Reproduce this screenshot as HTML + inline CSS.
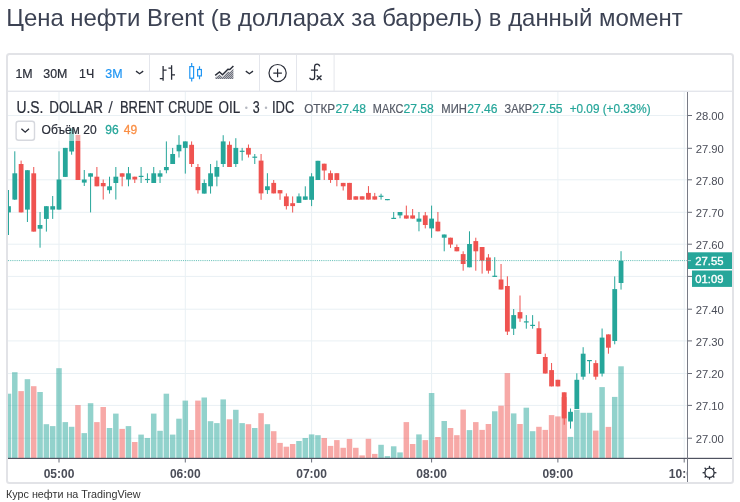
<!DOCTYPE html>
<html><head><meta charset="utf-8"><style>
html,body{margin:0;padding:0;background:#fff;width:740px;height:502px;overflow:hidden}
svg{position:absolute;left:0;top:0;font-family:"Liberation Sans",Arial,sans-serif}
</style></head><body>
<svg width="740" height="502" viewBox="0 0 740 502"><defs><clipPath id="pane"><rect x="8" y="92" width="679" height="366"/></clipPath><clipPath id="leg2"><rect x="8" y="120" width="679" height="21"/></clipPath></defs><g clip-path="url(#pane)"><rect x="8" y="115.00" width="679" height="1" fill="#e9f0f4"/><rect x="8" y="147.80" width="679" height="1" fill="#e9f0f4"/><rect x="8" y="179.30" width="679" height="1" fill="#e9f0f4"/><rect x="8" y="211.80" width="679" height="1" fill="#e9f0f4"/><rect x="8" y="243.70" width="679" height="1" fill="#e9f0f4"/><rect x="8" y="275.90" width="679" height="1" fill="#e9f0f4"/><rect x="8" y="308.70" width="679" height="1" fill="#e9f0f4"/><rect x="8" y="340.40" width="679" height="1" fill="#e9f0f4"/><rect x="8" y="373.00" width="679" height="1" fill="#e9f0f4"/><rect x="8" y="404.90" width="679" height="1" fill="#e9f0f4"/><rect x="8" y="437.70" width="679" height="1" fill="#e9f0f4"/><rect x="58.50" y="92" width="1" height="366" fill="#e9f0f4"/><rect x="184.80" y="92" width="1" height="366" fill="#e9f0f4"/><rect x="311.10" y="92" width="1" height="366" fill="#e9f0f4"/><rect x="431.09" y="92" width="1" height="366" fill="#e9f0f4"/><rect x="557.38" y="92" width="1" height="366" fill="#e9f0f4"/><rect x="683.69" y="92" width="1" height="366" fill="#e9f0f4"/><rect x="5.73" y="393.7" width="5.5" height="64.3" fill="rgba(38,166,154,0.5)"/><rect x="12.04" y="372.2" width="5.5" height="85.8" fill="rgba(38,166,154,0.5)"/><rect x="18.36" y="391.1" width="5.5" height="66.9" fill="rgba(239,83,80,0.5)"/><rect x="24.67" y="379.2" width="5.5" height="78.8" fill="rgba(38,166,154,0.5)"/><rect x="30.99" y="386.2" width="5.5" height="71.8" fill="rgba(239,83,80,0.5)"/><rect x="37.30" y="392.0" width="5.5" height="66.0" fill="rgba(38,166,154,0.5)"/><rect x="43.62" y="424.2" width="5.5" height="33.8" fill="rgba(38,166,154,0.5)"/><rect x="49.94" y="426.1" width="5.5" height="31.9" fill="rgba(38,166,154,0.5)"/><rect x="56.25" y="368.2" width="5.5" height="89.8" fill="rgba(38,166,154,0.5)"/><rect x="62.56" y="422.1" width="5.5" height="35.9" fill="rgba(38,166,154,0.5)"/><rect x="68.88" y="426.8" width="5.5" height="31.2" fill="rgba(38,166,154,0.5)"/><rect x="75.19" y="405.1" width="5.5" height="52.9" fill="rgba(239,83,80,0.5)"/><rect x="81.51" y="433.1" width="5.5" height="24.9" fill="rgba(38,166,154,0.5)"/><rect x="87.83" y="403.2" width="5.5" height="54.8" fill="rgba(38,166,154,0.5)"/><rect x="94.14" y="422.1" width="5.5" height="35.9" fill="rgba(239,83,80,0.5)"/><rect x="100.46" y="407.0" width="5.5" height="51.0" fill="rgba(239,83,80,0.5)"/><rect x="106.77" y="428.0" width="5.5" height="30.0" fill="rgba(38,166,154,0.5)"/><rect x="113.09" y="413.6" width="5.5" height="44.4" fill="rgba(38,166,154,0.5)"/><rect x="119.40" y="428.9" width="5.5" height="29.1" fill="rgba(239,83,80,0.5)"/><rect x="125.72" y="426.1" width="5.5" height="31.9" fill="rgba(38,166,154,0.5)"/><rect x="132.03" y="442.0" width="5.5" height="16.0" fill="rgba(239,83,80,0.5)"/><rect x="138.34" y="434.6" width="5.5" height="23.4" fill="rgba(38,166,154,0.5)"/><rect x="144.66" y="438.0" width="5.5" height="20.0" fill="rgba(38,166,154,0.5)"/><rect x="150.98" y="413.6" width="5.5" height="44.4" fill="rgba(38,166,154,0.5)"/><rect x="157.29" y="430.8" width="5.5" height="27.2" fill="rgba(38,166,154,0.5)"/><rect x="163.61" y="393.7" width="5.5" height="64.3" fill="rgba(38,166,154,0.5)"/><rect x="169.92" y="434.6" width="5.5" height="23.4" fill="rgba(38,166,154,0.5)"/><rect x="176.24" y="418.7" width="5.5" height="39.3" fill="rgba(38,166,154,0.5)"/><rect x="182.55" y="400.6" width="5.5" height="57.4" fill="rgba(38,166,154,0.5)"/><rect x="188.87" y="430.0" width="5.5" height="28.0" fill="rgba(239,83,80,0.5)"/><rect x="195.18" y="400.6" width="5.5" height="57.4" fill="rgba(239,83,80,0.5)"/><rect x="201.50" y="397.5" width="5.5" height="60.5" fill="rgba(38,166,154,0.5)"/><rect x="207.81" y="421.2" width="5.5" height="36.8" fill="rgba(38,166,154,0.5)"/><rect x="214.12" y="423.1" width="5.5" height="34.9" fill="rgba(38,166,154,0.5)"/><rect x="220.44" y="399.4" width="5.5" height="58.6" fill="rgba(38,166,154,0.5)"/><rect x="226.76" y="419.3" width="5.5" height="38.7" fill="rgba(239,83,80,0.5)"/><rect x="233.07" y="409.8" width="5.5" height="48.2" fill="rgba(38,166,154,0.5)"/><rect x="239.39" y="423.1" width="5.5" height="34.9" fill="rgba(38,166,154,0.5)"/><rect x="245.70" y="424.2" width="5.5" height="33.8" fill="rgba(239,83,80,0.5)"/><rect x="252.02" y="428.0" width="5.5" height="30.0" fill="rgba(38,166,154,0.5)"/><rect x="258.33" y="413.2" width="5.5" height="44.8" fill="rgba(239,83,80,0.5)"/><rect x="264.64" y="424.2" width="5.5" height="33.8" fill="rgba(38,166,154,0.5)"/><rect x="270.96" y="431.2" width="5.5" height="26.8" fill="rgba(239,83,80,0.5)"/><rect x="277.27" y="442.9" width="5.5" height="15.1" fill="rgba(239,83,80,0.5)"/><rect x="283.59" y="446.7" width="5.5" height="11.3" fill="rgba(239,83,80,0.5)"/><rect x="289.90" y="444.0" width="5.5" height="14.0" fill="rgba(239,83,80,0.5)"/><rect x="296.22" y="441.0" width="5.5" height="17.0" fill="rgba(38,166,154,0.5)"/><rect x="302.54" y="438.0" width="5.5" height="20.0" fill="rgba(38,166,154,0.5)"/><rect x="308.85" y="434.4" width="5.5" height="23.6" fill="rgba(38,166,154,0.5)"/><rect x="315.17" y="435.2" width="5.5" height="22.8" fill="rgba(38,166,154,0.5)"/><rect x="321.48" y="438.0" width="5.5" height="20.0" fill="rgba(239,83,80,0.5)"/><rect x="327.80" y="445.9" width="5.5" height="12.1" fill="rgba(239,83,80,0.5)"/><rect x="334.11" y="440.1" width="5.5" height="17.9" fill="rgba(239,83,80,0.5)"/><rect x="340.43" y="447.8" width="5.5" height="10.2" fill="rgba(239,83,80,0.5)"/><rect x="346.74" y="438.9" width="5.5" height="19.1" fill="rgba(239,83,80,0.5)"/><rect x="353.06" y="447.8" width="5.5" height="10.2" fill="rgba(239,83,80,0.5)"/><rect x="359.37" y="455.4" width="5.5" height="2.6" fill="rgba(239,83,80,0.5)"/><rect x="365.69" y="438.8" width="5.5" height="19.2" fill="rgba(239,83,80,0.5)"/><rect x="372.00" y="453.9" width="5.5" height="4.1" fill="rgba(239,83,80,0.5)"/><rect x="378.31" y="444.8" width="5.5" height="13.2" fill="rgba(38,166,154,0.5)"/><rect x="384.63" y="456.1" width="5.5" height="1.9" fill="rgba(38,166,154,0.5)"/><rect x="390.94" y="446.3" width="5.5" height="11.7" fill="rgba(38,166,154,0.5)"/><rect x="397.26" y="452.4" width="5.5" height="5.6" fill="rgba(38,166,154,0.5)"/><rect x="403.58" y="422.1" width="5.5" height="35.9" fill="rgba(239,83,80,0.5)"/><rect x="409.89" y="444.0" width="5.5" height="14.0" fill="rgba(239,83,80,0.5)"/><rect x="416.21" y="434.4" width="5.5" height="23.6" fill="rgba(38,166,154,0.5)"/><rect x="422.52" y="440.1" width="5.5" height="17.9" fill="rgba(239,83,80,0.5)"/><rect x="428.84" y="393.0" width="5.5" height="65.0" fill="rgba(38,166,154,0.5)"/><rect x="435.15" y="437.0" width="5.5" height="21.0" fill="rgba(239,83,80,0.5)"/><rect x="441.47" y="421.0" width="5.5" height="37.0" fill="rgba(38,166,154,0.5)"/><rect x="447.78" y="428.0" width="5.5" height="30.0" fill="rgba(239,83,80,0.5)"/><rect x="454.10" y="435.2" width="5.5" height="22.8" fill="rgba(239,83,80,0.5)"/><rect x="460.41" y="409.6" width="5.5" height="48.4" fill="rgba(239,83,80,0.5)"/><rect x="466.73" y="430.1" width="5.5" height="27.9" fill="rgba(38,166,154,0.5)"/><rect x="473.04" y="422.1" width="5.5" height="35.9" fill="rgba(239,83,80,0.5)"/><rect x="479.36" y="429.9" width="5.5" height="28.1" fill="rgba(239,83,80,0.5)"/><rect x="485.67" y="424.0" width="5.5" height="34.0" fill="rgba(239,83,80,0.5)"/><rect x="491.99" y="411.3" width="5.5" height="46.7" fill="rgba(38,166,154,0.5)"/><rect x="498.30" y="405.7" width="5.5" height="52.3" fill="rgba(239,83,80,0.5)"/><rect x="504.62" y="373.1" width="5.5" height="84.9" fill="rgba(239,83,80,0.5)"/><rect x="510.93" y="413.4" width="5.5" height="44.6" fill="rgba(38,166,154,0.5)"/><rect x="517.25" y="424.0" width="5.5" height="34.0" fill="rgba(239,83,80,0.5)"/><rect x="523.56" y="407.7" width="5.5" height="50.3" fill="rgba(38,166,154,0.5)"/><rect x="529.88" y="431.2" width="5.5" height="26.8" fill="rgba(38,166,154,0.5)"/><rect x="536.19" y="426.8" width="5.5" height="31.2" fill="rgba(239,83,80,0.5)"/><rect x="542.51" y="429.9" width="5.5" height="28.1" fill="rgba(239,83,80,0.5)"/><rect x="548.82" y="415.1" width="5.5" height="42.9" fill="rgba(239,83,80,0.5)"/><rect x="555.13" y="416.4" width="5.5" height="41.6" fill="rgba(239,83,80,0.5)"/><rect x="561.45" y="397.1" width="5.5" height="60.9" fill="rgba(239,83,80,0.5)"/><rect x="567.77" y="436.9" width="5.5" height="21.1" fill="rgba(38,166,154,0.5)"/><rect x="574.08" y="409.8" width="5.5" height="48.2" fill="rgba(38,166,154,0.5)"/><rect x="580.39" y="412.8" width="5.5" height="45.2" fill="rgba(38,166,154,0.5)"/><rect x="586.71" y="412.8" width="5.5" height="45.2" fill="rgba(38,166,154,0.5)"/><rect x="593.02" y="430.6" width="5.5" height="27.4" fill="rgba(239,83,80,0.5)"/><rect x="599.34" y="387.1" width="5.5" height="70.9" fill="rgba(38,166,154,0.5)"/><rect x="605.66" y="426.9" width="5.5" height="31.1" fill="rgba(239,83,80,0.5)"/><rect x="611.97" y="396.9" width="5.5" height="61.1" fill="rgba(38,166,154,0.5)"/><rect x="618.29" y="366.3" width="5.5" height="91.7" fill="rgba(38,166,154,0.5)"/><rect x="7.98" y="190.0" width="1" height="45.0" fill="#26a69a"/><rect x="6.08" y="206.2" width="4.8" height="6.2" fill="#26a69a"/><rect x="14.29" y="151.3" width="1" height="48.7" fill="#26a69a"/><rect x="12.39" y="173.3" width="4.8" height="26.3" fill="#26a69a"/><rect x="20.61" y="160.6" width="1" height="51.8" fill="#ef5350"/><rect x="18.71" y="164.0" width="4.8" height="48.4" fill="#ef5350"/><rect x="26.92" y="170.2" width="1" height="51.8" fill="#26a69a"/><rect x="25.02" y="170.2" width="4.8" height="39.4" fill="#26a69a"/><rect x="33.24" y="167.0" width="1" height="64.6" fill="#ef5350"/><rect x="31.34" y="173.3" width="4.8" height="58.3" fill="#ef5350"/><rect x="39.55" y="212.0" width="1" height="35.7" fill="#26a69a"/><rect x="37.66" y="225.0" width="4.8" height="3.7" fill="#26a69a"/><rect x="45.87" y="206.2" width="1" height="25.4" fill="#26a69a"/><rect x="43.97" y="206.2" width="4.8" height="12.7" fill="#26a69a"/><rect x="52.19" y="196.0" width="1" height="22.9" fill="#26a69a"/><rect x="50.29" y="206.2" width="4.8" height="3.4" fill="#26a69a"/><rect x="58.50" y="151.3" width="1" height="58.3" fill="#26a69a"/><rect x="56.60" y="179.5" width="4.8" height="30.1" fill="#26a69a"/><rect x="64.81" y="147.9" width="1" height="29.0" fill="#26a69a"/><rect x="62.91" y="147.9" width="4.8" height="29.0" fill="#26a69a"/><rect x="71.13" y="128.4" width="1" height="26.3" fill="#26a69a"/><rect x="69.23" y="128.4" width="4.8" height="23.1" fill="#26a69a"/><rect x="77.44" y="134.9" width="1" height="45.1" fill="#ef5350"/><rect x="75.54" y="134.9" width="4.8" height="45.1" fill="#ef5350"/><rect x="83.76" y="170.0" width="1" height="16.0" fill="#26a69a"/><rect x="81.86" y="179.5" width="4.8" height="3.1" fill="#26a69a"/><rect x="90.08" y="173.3" width="1" height="39.1" fill="#26a69a"/><rect x="88.17" y="173.3" width="4.8" height="3.4" fill="#26a69a"/><rect x="96.39" y="167.0" width="1" height="19.3" fill="#ef5350"/><rect x="94.49" y="176.7" width="4.8" height="9.6" fill="#ef5350"/><rect x="102.71" y="179.5" width="1" height="20.0" fill="#ef5350"/><rect x="100.81" y="183.0" width="4.8" height="3.3" fill="#ef5350"/><rect x="109.02" y="176.7" width="1" height="16.9" fill="#26a69a"/><rect x="107.12" y="186.3" width="4.8" height="3.9" fill="#26a69a"/><rect x="115.34" y="167.0" width="1" height="32.5" fill="#26a69a"/><rect x="113.44" y="176.7" width="4.8" height="6.3" fill="#26a69a"/><rect x="121.65" y="173.3" width="1" height="13.0" fill="#ef5350"/><rect x="119.75" y="173.3" width="4.8" height="3.4" fill="#ef5350"/><rect x="127.97" y="167.0" width="1" height="19.3" fill="#26a69a"/><rect x="126.06" y="173.3" width="4.8" height="6.2" fill="#26a69a"/><rect x="134.28" y="176.7" width="1" height="6.3" fill="#ef5350"/><rect x="132.38" y="176.7" width="4.8" height="2.8" fill="#ef5350"/><rect x="140.59" y="167.0" width="1" height="16.0" fill="#26a69a"/><rect x="138.69" y="175.8" width="4.8" height="1.2" fill="#26a69a"/><rect x="146.91" y="173.3" width="1" height="9.7" fill="#26a69a"/><rect x="145.01" y="178.9" width="4.8" height="1.2" fill="#26a69a"/><rect x="153.23" y="167.0" width="1" height="16.0" fill="#26a69a"/><rect x="151.33" y="173.3" width="4.8" height="9.7" fill="#26a69a"/><rect x="159.54" y="170.2" width="1" height="12.8" fill="#26a69a"/><rect x="157.64" y="173.3" width="4.8" height="3.4" fill="#26a69a"/><rect x="165.86" y="141.4" width="1" height="31.9" fill="#26a69a"/><rect x="163.96" y="167.0" width="4.8" height="3.2" fill="#26a69a"/><rect x="172.17" y="147.9" width="1" height="16.1" fill="#26a69a"/><rect x="170.27" y="154.0" width="4.8" height="10.0" fill="#26a69a"/><rect x="178.49" y="135.2" width="1" height="22.3" fill="#26a69a"/><rect x="176.59" y="144.8" width="4.8" height="6.5" fill="#26a69a"/><rect x="184.80" y="141.4" width="1" height="32.2" fill="#26a69a"/><rect x="182.90" y="141.4" width="4.8" height="6.5" fill="#26a69a"/><rect x="191.12" y="141.4" width="1" height="25.6" fill="#ef5350"/><rect x="189.22" y="144.8" width="4.8" height="19.2" fill="#ef5350"/><rect x="197.43" y="164.0" width="1" height="29.6" fill="#ef5350"/><rect x="195.53" y="167.0" width="4.8" height="23.2" fill="#ef5350"/><rect x="203.75" y="179.5" width="1" height="14.1" fill="#26a69a"/><rect x="201.84" y="183.0" width="4.8" height="10.6" fill="#26a69a"/><rect x="210.06" y="164.0" width="1" height="29.6" fill="#26a69a"/><rect x="208.16" y="173.3" width="4.8" height="13.0" fill="#26a69a"/><rect x="216.38" y="160.6" width="1" height="25.7" fill="#26a69a"/><rect x="214.47" y="167.0" width="4.8" height="9.7" fill="#26a69a"/><rect x="222.69" y="135.2" width="1" height="31.8" fill="#26a69a"/><rect x="220.79" y="141.4" width="4.8" height="22.6" fill="#26a69a"/><rect x="229.01" y="141.4" width="1" height="25.6" fill="#ef5350"/><rect x="227.11" y="144.8" width="4.8" height="22.2" fill="#ef5350"/><rect x="235.32" y="138.2" width="1" height="28.8" fill="#26a69a"/><rect x="233.42" y="147.9" width="4.8" height="16.1" fill="#26a69a"/><rect x="241.64" y="147.9" width="1" height="12.7" fill="#26a69a"/><rect x="239.74" y="150.7" width="4.8" height="1.2" fill="#26a69a"/><rect x="247.95" y="144.5" width="1" height="13.0" fill="#ef5350"/><rect x="246.05" y="147.9" width="4.8" height="6.7" fill="#ef5350"/><rect x="254.27" y="154.0" width="1" height="10.0" fill="#26a69a"/><rect x="252.37" y="156.6" width="4.8" height="1.2" fill="#26a69a"/><rect x="260.58" y="154.0" width="1" height="45.8" fill="#ef5350"/><rect x="258.68" y="160.6" width="4.8" height="32.8" fill="#ef5350"/><rect x="266.89" y="173.2" width="1" height="20.7" fill="#26a69a"/><rect x="265.00" y="186.3" width="4.8" height="3.8" fill="#26a69a"/><rect x="273.21" y="180.0" width="1" height="13.4" fill="#ef5350"/><rect x="271.31" y="182.9" width="4.8" height="10.5" fill="#ef5350"/><rect x="279.52" y="190.1" width="1" height="9.7" fill="#ef5350"/><rect x="277.62" y="190.1" width="4.8" height="3.3" fill="#ef5350"/><rect x="285.84" y="193.4" width="1" height="16.1" fill="#ef5350"/><rect x="283.94" y="196.4" width="4.8" height="9.7" fill="#ef5350"/><rect x="292.15" y="196.4" width="1" height="16.1" fill="#ef5350"/><rect x="290.25" y="203.2" width="4.8" height="2.9" fill="#ef5350"/><rect x="298.47" y="193.4" width="1" height="9.5" fill="#26a69a"/><rect x="296.57" y="196.4" width="4.8" height="6.5" fill="#26a69a"/><rect x="304.79" y="186.3" width="1" height="13.5" fill="#26a69a"/><rect x="302.89" y="196.4" width="4.8" height="3.4" fill="#26a69a"/><rect x="311.10" y="173.2" width="1" height="32.9" fill="#26a69a"/><rect x="309.20" y="176.4" width="4.8" height="23.4" fill="#26a69a"/><rect x="317.42" y="160.8" width="1" height="19.2" fill="#26a69a"/><rect x="315.52" y="160.8" width="4.8" height="19.2" fill="#26a69a"/><rect x="323.73" y="163.7" width="1" height="16.3" fill="#ef5350"/><rect x="321.83" y="163.7" width="4.8" height="6.8" fill="#ef5350"/><rect x="330.05" y="170.5" width="1" height="12.4" fill="#ef5350"/><rect x="328.15" y="173.2" width="4.8" height="6.8" fill="#ef5350"/><rect x="336.36" y="173.2" width="1" height="13.1" fill="#ef5350"/><rect x="334.46" y="173.2" width="4.8" height="6.8" fill="#ef5350"/><rect x="342.68" y="182.9" width="1" height="7.6" fill="#ef5350"/><rect x="340.78" y="182.9" width="4.8" height="3.4" fill="#ef5350"/><rect x="348.99" y="182.9" width="1" height="16.9" fill="#ef5350"/><rect x="347.09" y="182.9" width="4.8" height="16.9" fill="#ef5350"/><rect x="355.31" y="196.3" width="1" height="3.4" fill="#ef5350"/><rect x="353.41" y="196.3" width="4.8" height="3.4" fill="#ef5350"/><rect x="361.62" y="196.3" width="1" height="3.3" fill="#ef5350"/><rect x="359.72" y="196.3" width="4.8" height="3.3" fill="#ef5350"/><rect x="367.94" y="186.1" width="1" height="13.5" fill="#ef5350"/><rect x="366.04" y="192.9" width="4.8" height="6.7" fill="#ef5350"/><rect x="374.25" y="192.9" width="1" height="6.7" fill="#ef5350"/><rect x="372.35" y="196.3" width="4.8" height="3.3" fill="#ef5350"/><rect x="380.56" y="193.7" width="1" height="5.9" fill="#26a69a"/><rect x="378.67" y="195.7" width="4.8" height="1.2" fill="#26a69a"/><rect x="386.88" y="199.0" width="1" height="1.2" fill="#26a69a"/><rect x="384.98" y="199.0" width="4.8" height="1.2" fill="#26a69a"/><rect x="393.19" y="212.0" width="1" height="7.0" fill="#26a69a"/><rect x="391.30" y="217.8" width="4.8" height="1.2" fill="#26a69a"/><rect x="399.51" y="212.0" width="1" height="6.3" fill="#26a69a"/><rect x="397.61" y="212.0" width="4.8" height="3.4" fill="#26a69a"/><rect x="405.83" y="205.6" width="1" height="13.0" fill="#ef5350"/><rect x="403.93" y="215.4" width="4.8" height="3.2" fill="#ef5350"/><rect x="412.14" y="209.0" width="1" height="9.6" fill="#ef5350"/><rect x="410.24" y="215.4" width="4.8" height="3.2" fill="#ef5350"/><rect x="418.46" y="212.0" width="1" height="19.3" fill="#26a69a"/><rect x="416.56" y="218.6" width="4.8" height="3.1" fill="#26a69a"/><rect x="424.77" y="212.0" width="1" height="16.4" fill="#ef5350"/><rect x="422.87" y="215.4" width="4.8" height="9.6" fill="#ef5350"/><rect x="431.09" y="205.6" width="1" height="32.2" fill="#26a69a"/><rect x="429.19" y="218.6" width="4.8" height="9.8" fill="#26a69a"/><rect x="437.40" y="212.0" width="1" height="19.3" fill="#ef5350"/><rect x="435.50" y="221.7" width="4.8" height="9.6" fill="#ef5350"/><rect x="443.72" y="234.5" width="1" height="16.8" fill="#26a69a"/><rect x="441.82" y="234.5" width="4.8" height="3.2" fill="#26a69a"/><rect x="450.03" y="237.7" width="1" height="10.2" fill="#ef5350"/><rect x="448.13" y="237.7" width="4.8" height="6.8" fill="#ef5350"/><rect x="456.35" y="244.5" width="1" height="6.8" fill="#ef5350"/><rect x="454.45" y="247.0" width="4.8" height="4.3" fill="#ef5350"/><rect x="462.66" y="251.3" width="1" height="19.4" fill="#ef5350"/><rect x="460.76" y="254.1" width="4.8" height="9.9" fill="#ef5350"/><rect x="468.98" y="231.3" width="1" height="36.0" fill="#26a69a"/><rect x="467.08" y="244.0" width="4.8" height="23.3" fill="#26a69a"/><rect x="475.29" y="237.7" width="1" height="33.0" fill="#ef5350"/><rect x="473.39" y="241.1" width="4.8" height="10.2" fill="#ef5350"/><rect x="481.61" y="247.0" width="1" height="26.6" fill="#ef5350"/><rect x="479.71" y="247.0" width="4.8" height="13.6" fill="#ef5350"/><rect x="487.92" y="254.1" width="1" height="19.5" fill="#ef5350"/><rect x="486.02" y="257.5" width="4.8" height="13.2" fill="#ef5350"/><rect x="494.24" y="257.2" width="1" height="19.7" fill="#26a69a"/><rect x="492.34" y="275.7" width="4.8" height="1.2" fill="#26a69a"/><rect x="500.55" y="264.0" width="1" height="25.5" fill="#ef5350"/><rect x="498.65" y="279.5" width="4.8" height="10.0" fill="#ef5350"/><rect x="506.87" y="276.3" width="1" height="58.7" fill="#ef5350"/><rect x="504.97" y="286.0" width="4.8" height="45.6" fill="#ef5350"/><rect x="513.18" y="309.0" width="1" height="26.0" fill="#26a69a"/><rect x="511.28" y="315.1" width="4.8" height="13.6" fill="#26a69a"/><rect x="519.50" y="295.5" width="1" height="26.4" fill="#ef5350"/><rect x="517.60" y="312.1" width="4.8" height="6.4" fill="#ef5350"/><rect x="525.81" y="315.1" width="1" height="13.6" fill="#26a69a"/><rect x="523.91" y="321.3" width="4.8" height="1.2" fill="#26a69a"/><rect x="532.12" y="315.1" width="1" height="13.6" fill="#26a69a"/><rect x="530.23" y="324.8" width="4.8" height="1.2" fill="#26a69a"/><rect x="538.44" y="321.4" width="1" height="32.6" fill="#ef5350"/><rect x="536.54" y="328.2" width="4.8" height="25.8" fill="#ef5350"/><rect x="544.76" y="353.6" width="1" height="19.9" fill="#ef5350"/><rect x="542.86" y="357.0" width="4.8" height="16.5" fill="#ef5350"/><rect x="551.07" y="363.0" width="1" height="23.4" fill="#ef5350"/><rect x="549.17" y="370.1" width="4.8" height="16.3" fill="#ef5350"/><rect x="557.38" y="379.8" width="1" height="6.6" fill="#ef5350"/><rect x="555.49" y="379.8" width="4.8" height="6.6" fill="#ef5350"/><rect x="563.70" y="392.3" width="1" height="32.4" fill="#ef5350"/><rect x="561.80" y="392.3" width="4.8" height="26.1" fill="#ef5350"/><rect x="570.02" y="408.5" width="1" height="20.1" fill="#26a69a"/><rect x="568.12" y="411.8" width="4.8" height="9.7" fill="#26a69a"/><rect x="576.33" y="373.3" width="1" height="35.7" fill="#26a69a"/><rect x="574.43" y="379.8" width="4.8" height="29.2" fill="#26a69a"/><rect x="582.64" y="347.2" width="1" height="32.5" fill="#26a69a"/><rect x="580.75" y="353.7" width="4.8" height="23.0" fill="#26a69a"/><rect x="588.96" y="360.0" width="1" height="13.6" fill="#26a69a"/><rect x="587.06" y="360.0" width="4.8" height="1.2" fill="#26a69a"/><rect x="595.27" y="360.2" width="1" height="19.5" fill="#ef5350"/><rect x="593.38" y="363.1" width="4.8" height="13.6" fill="#ef5350"/><rect x="601.59" y="328.5" width="1" height="48.0" fill="#26a69a"/><rect x="599.69" y="337.6" width="4.8" height="36.0" fill="#26a69a"/><rect x="607.91" y="334.4" width="1" height="19.3" fill="#ef5350"/><rect x="606.01" y="334.4" width="4.8" height="13.3" fill="#ef5350"/><rect x="614.22" y="276.4" width="1" height="67.9" fill="#26a69a"/><rect x="612.32" y="289.1" width="4.8" height="51.9" fill="#26a69a"/><rect x="620.54" y="251.2" width="1" height="38.4" fill="#26a69a"/><rect x="618.64" y="260.8" width="4.8" height="22.2" fill="#26a69a"/><line x1="8" y1="260.6" x2="687" y2="260.6" stroke="#26a69a" stroke-width="1" stroke-dasharray="1.1 1.06" opacity="0.7"/><rect x="8" y="120" width="140" height="21" fill="rgba(255,255,255,0.5)"/></g><rect x="8" y="457.8" width="724" height="1.2" fill="#4f5260"/><rect x="687" y="92" width="1" height="390" fill="#787b86"/><rect x="688" y="115.00" width="4" height="1" fill="#6a6e7a"/><text x="695.7" y="120.20" font-size="11" fill="#4a4d58" textLength="28.2" lengthAdjust="spacingAndGlyphs">28.00</text><rect x="688" y="147.80" width="4" height="1" fill="#6a6e7a"/><text x="695.7" y="153.00" font-size="11" fill="#4a4d58" textLength="28.2" lengthAdjust="spacingAndGlyphs">27.90</text><rect x="688" y="179.30" width="4" height="1" fill="#6a6e7a"/><text x="695.7" y="184.50" font-size="11" fill="#4a4d58" textLength="28.2" lengthAdjust="spacingAndGlyphs">27.80</text><rect x="688" y="211.80" width="4" height="1" fill="#6a6e7a"/><text x="695.7" y="217.00" font-size="11" fill="#4a4d58" textLength="28.2" lengthAdjust="spacingAndGlyphs">27.70</text><rect x="688" y="243.70" width="4" height="1" fill="#6a6e7a"/><text x="695.7" y="248.90" font-size="11" fill="#4a4d58" textLength="28.2" lengthAdjust="spacingAndGlyphs">27.60</text><rect x="688" y="275.90" width="4" height="1" fill="#6a6e7a"/><rect x="688" y="308.70" width="4" height="1" fill="#6a6e7a"/><text x="695.7" y="313.90" font-size="11" fill="#4a4d58" textLength="28.2" lengthAdjust="spacingAndGlyphs">27.40</text><rect x="688" y="340.40" width="4" height="1" fill="#6a6e7a"/><text x="695.7" y="345.60" font-size="11" fill="#4a4d58" textLength="28.2" lengthAdjust="spacingAndGlyphs">27.30</text><rect x="688" y="373.00" width="4" height="1" fill="#6a6e7a"/><text x="695.7" y="378.20" font-size="11" fill="#4a4d58" textLength="28.2" lengthAdjust="spacingAndGlyphs">27.20</text><rect x="688" y="404.90" width="4" height="1" fill="#6a6e7a"/><text x="695.7" y="410.10" font-size="11" fill="#4a4d58" textLength="28.2" lengthAdjust="spacingAndGlyphs">27.10</text><rect x="688" y="437.70" width="4" height="1" fill="#6a6e7a"/><text x="695.7" y="442.90" font-size="11" fill="#4a4d58" textLength="28.2" lengthAdjust="spacingAndGlyphs">27.00</text><rect x="688" y="252.3" width="44" height="16.7" fill="#26a69a"/><rect x="688" y="260.1" width="3" height="1" fill="#ffffff" opacity="0.6"/><text x="695.3" y="264.8" font-size="11" fill="#fff" stroke="#fff" stroke-width="0.35" textLength="28.2" lengthAdjust="spacingAndGlyphs">27.55</text><rect x="692" y="270.5" width="40" height="16.4" fill="#26a69a"/><text x="695.3" y="282.9" font-size="11" fill="#fff" stroke="#fff" stroke-width="0.35" textLength="28.2" lengthAdjust="spacingAndGlyphs">01:09</text><rect x="58.50" y="459" width="1" height="3.5" fill="#6a6e7a"/><text x="59.00" y="477.8" font-size="12" font-weight="bold" fill="#4a4d58" text-anchor="middle">05:00</text><rect x="184.80" y="459" width="1" height="3.5" fill="#6a6e7a"/><text x="185.30" y="477.8" font-size="12" font-weight="bold" fill="#4a4d58" text-anchor="middle">06:00</text><rect x="311.10" y="459" width="1" height="3.5" fill="#6a6e7a"/><text x="311.60" y="477.8" font-size="12" font-weight="bold" fill="#4a4d58" text-anchor="middle">07:00</text><rect x="431.09" y="459" width="1" height="3.5" fill="#6a6e7a"/><text x="431.59" y="477.8" font-size="12" font-weight="bold" fill="#4a4d58" text-anchor="middle">08:00</text><rect x="557.38" y="459" width="1" height="3.5" fill="#6a6e7a"/><text x="557.88" y="477.8" font-size="12" font-weight="bold" fill="#4a4d58" text-anchor="middle">09:00</text><rect x="683.69" y="459" width="1" height="3.5" fill="#6a6e7a"/><svg x="600" y="460" width="87" height="22" overflow="hidden"><text x="84.19" y="17.8" font-size="12" font-weight="bold" fill="#4a4d58" text-anchor="middle">10:00</text></svg><circle cx="709.5" cy="472.7" r="4.6" fill="none" stroke="#2a2e39" stroke-width="1.3"/><line x1="714.10" y1="472.70" x2="716.40" y2="472.70" stroke="#2a2e39" stroke-width="1.3"/><line x1="712.75" y1="475.95" x2="714.38" y2="477.58" stroke="#2a2e39" stroke-width="1.3"/><line x1="709.50" y1="477.30" x2="709.50" y2="479.60" stroke="#2a2e39" stroke-width="1.3"/><line x1="706.25" y1="475.95" x2="704.62" y2="477.58" stroke="#2a2e39" stroke-width="1.3"/><line x1="704.90" y1="472.70" x2="702.60" y2="472.70" stroke="#2a2e39" stroke-width="1.3"/><line x1="706.25" y1="469.45" x2="704.62" y2="467.82" stroke="#2a2e39" stroke-width="1.3"/><line x1="709.50" y1="468.10" x2="709.50" y2="465.80" stroke="#2a2e39" stroke-width="1.3"/><line x1="712.75" y1="469.45" x2="714.38" y2="467.82" stroke="#2a2e39" stroke-width="1.3"/><rect x="7" y="54" width="726" height="429" rx="2.5" fill="none" stroke="#e2e3e7" stroke-width="2"/><rect x="8" y="90.6" width="724" height="1.4" fill="#e4e6ec"/><rect x="149.0" y="55" width="1" height="36" fill="#e4e6ec"/><rect x="259.0" y="55" width="1" height="36" fill="#e4e6ec"/><rect x="296.0" y="55" width="1" height="36" fill="#e4e6ec"/><rect x="333.6" y="55" width="1" height="36" fill="#e4e6ec"/><text x="15.4" y="77.7" font-size="12.4" fill="#2a2e39" stroke="#2a2e39" stroke-width="0.2">1М</text><text x="43.3" y="77.7" font-size="12.4" fill="#2a2e39" stroke="#2a2e39" stroke-width="0.2">30М</text><text x="79.0" y="77.7" font-size="12.4" fill="#2a2e39" stroke="#2a2e39" stroke-width="0.2">1Ч</text><text x="105.3" y="77.7" font-size="12.4" fill="#2196f3" stroke="#2196f3" stroke-width="0.2">3М</text><path d="M136.0 71.1 L139.6 73.7 L143.2 71.1" fill="none" stroke="#2a2e39" stroke-width="1.3"/><path d="M245.8 71.1 L249.4 73.7 L253.0 71.1" fill="none" stroke="#2a2e39" stroke-width="1.3"/><g stroke="#2a2e39" stroke-width="1.3" fill="none"><path d="M163.1 66 V80.8 M159.8 78.6 H163.1 M163.1 70.1 H166.6"/><path d="M171.6 65.2 V79.8 M168.4 68.1 H171.6 M171.6 74.9 H175"/></g><g stroke="#2196f3" stroke-width="1.2" fill="none"><rect x="189.8" y="66.6" width="3.8" height="11.6"/><path d="M191.7 63 V66.6 M191.7 78.2 V81.6"/><rect x="197.6" y="69.5" width="3.8" height="6.4"/><path d="M199.5 66.3 V69.5 M199.5 75.9 V79.2"/></g><defs><pattern id="hatch" width="2" height="2" patternUnits="userSpaceOnUse"><rect width="2" height="2" fill="#b4b6bd"/><rect width="1" height="1" fill="#6f727c"/><rect x="1" y="1" width="1" height="1" fill="#6f727c"/></pattern></defs><path d="M215.2 79 L215.2 77.8 L219.5 74.4 L222.5 77.1 L227.9 71.6 L229.9 71.9 L233.4 68.4 L233.4 79 Z" fill="url(#hatch)"/><path d="M215.2 75.4 L219.5 72 L222.5 74.7 L227.9 69.2 L229.9 69.5 L233.4 66" fill="none" stroke="#2a2e39" stroke-width="1.5"/><circle cx="277.6" cy="73.1" r="8.6" fill="none" stroke="#2a2e39" stroke-width="1.2"/><path d="M273.3 73.1 H281.9 M277.6 68.8 V77.3" stroke="#2a2e39" stroke-width="1.2"/><path d="M319.7 66.4 C319.4 64.9 318.4 64.1 317.1 64.1 C315.6 64.1 314.6 65.1 314.6 66.8 L314.6 77.2 C314.6 78.7 313.6 79.5 312.2 79.5 C311 79.5 310 78.8 309.6 77.7 M310.9 70.1 H318" fill="none" stroke="#2a2e39" stroke-width="1.3"/><path d="M316.8 75.4 L321.5 80 M321.5 75.4 L316.8 80" stroke="#2a2e39" stroke-width="1.4"/><text x="16.44" y="113" font-size="16" fill="#2a2e39" stroke="#2a2e39" stroke-width="0.22" textLength="26.92" lengthAdjust="spacingAndGlyphs">U.S.</text><text x="49.26" y="113" font-size="16" fill="#2a2e39" stroke="#2a2e39" stroke-width="0.22" textLength="53.57" lengthAdjust="spacingAndGlyphs">DOLLAR</text><text x="119.89" y="113" font-size="16" fill="#2a2e39" stroke="#2a2e39" stroke-width="0.22" textLength="44.06" lengthAdjust="spacingAndGlyphs">BRENT</text><text x="168.33" y="113" font-size="16" fill="#2a2e39" stroke="#2a2e39" stroke-width="0.22" textLength="44.42" lengthAdjust="spacingAndGlyphs">CRUDE</text><text x="218.60" y="113" font-size="16" fill="#2a2e39" stroke="#2a2e39" stroke-width="0.22" textLength="21.67" lengthAdjust="spacingAndGlyphs">OIL</text><text x="271.99" y="113" font-size="16" fill="#2a2e39" stroke="#2a2e39" stroke-width="0.22" textLength="22.40" lengthAdjust="spacingAndGlyphs">IDC</text><text x="252.81" y="113" font-size="16" fill="#2a2e39" stroke="#2a2e39" stroke-width="0.22" textLength="6.90" lengthAdjust="spacingAndGlyphs">3</text><text x="108.3" y="113" font-size="16" fill="#3a3e4a" textLength="4.6" lengthAdjust="spacingAndGlyphs">/</text><circle cx="246.3" cy="107.8" r="1.25" fill="#b4b7c0"/><circle cx="266.0" cy="107.8" r="1.25" fill="#b4b7c0"/><text x="304.2" y="113.1" font-size="12" fill="#555a66" stroke="#555a66" stroke-width="0.2" textLength="31" lengthAdjust="spacingAndGlyphs">ОТКР</text><text x="335.6" y="113.1" font-size="12" fill="#26a69a" stroke="#26a69a" stroke-width="0.2" textLength="30.3" lengthAdjust="spacingAndGlyphs">27.48</text><text x="372.8" y="113.1" font-size="12" fill="#555a66" stroke="#555a66" stroke-width="0.2" textLength="30.5" lengthAdjust="spacingAndGlyphs">МАКС</text><text x="403.5" y="113.1" font-size="12" fill="#26a69a" stroke="#26a69a" stroke-width="0.2" textLength="30.3" lengthAdjust="spacingAndGlyphs">27.58</text><text x="441.3" y="113.1" font-size="12" fill="#555a66" stroke="#555a66" stroke-width="0.2" textLength="25.6" lengthAdjust="spacingAndGlyphs">МИН</text><text x="467.2" y="113.1" font-size="12" fill="#26a69a" stroke="#26a69a" stroke-width="0.2" textLength="30.3" lengthAdjust="spacingAndGlyphs">27.46</text><text x="504.6" y="113.1" font-size="12" fill="#555a66" stroke="#555a66" stroke-width="0.2" textLength="27.5" lengthAdjust="spacingAndGlyphs">ЗАКР</text><text x="532.3" y="113.1" font-size="12" fill="#26a69a" stroke="#26a69a" stroke-width="0.2" textLength="30.3" lengthAdjust="spacingAndGlyphs">27.55</text><text x="569.7" y="113.1" font-size="12" fill="#26a69a" stroke="#26a69a" stroke-width="0.2" textLength="81" lengthAdjust="spacingAndGlyphs">+0.09 (+0.33%)</text><rect x="16.1" y="121.2" width="18.4" height="19" rx="2.5" fill="#fff" stroke="#d6d8de" stroke-width="1.4"/><path d="M21.4 128.7 L25.2 132.2 L29 128.7" fill="none" stroke="#2a2e39" stroke-width="1.3"/><text x="41.6" y="134.2" font-size="12" fill="#2a2e39" stroke="#2a2e39" stroke-width="0.2" textLength="55" lengthAdjust="spacingAndGlyphs">Объём 20</text><text x="105.3" y="134.2" font-size="12" fill="#26a69a" stroke="#26a69a" stroke-width="0.3">96</text><text x="123.8" y="134.2" font-size="12" fill="#fa8f45" stroke="#fa8f45" stroke-width="0.3">49</text><text x="6.2" y="26.2" font-size="24" fill="#3c4253" textLength="676.5" lengthAdjust="spacingAndGlyphs">Цена нефти Brent (в долларах за баррель) в данный момент</text><text x="6.0" y="497.7" font-size="11" fill="#333" textLength="134.6" lengthAdjust="spacingAndGlyphs">Курс нефти на TradingView</text></svg>
</body></html>
